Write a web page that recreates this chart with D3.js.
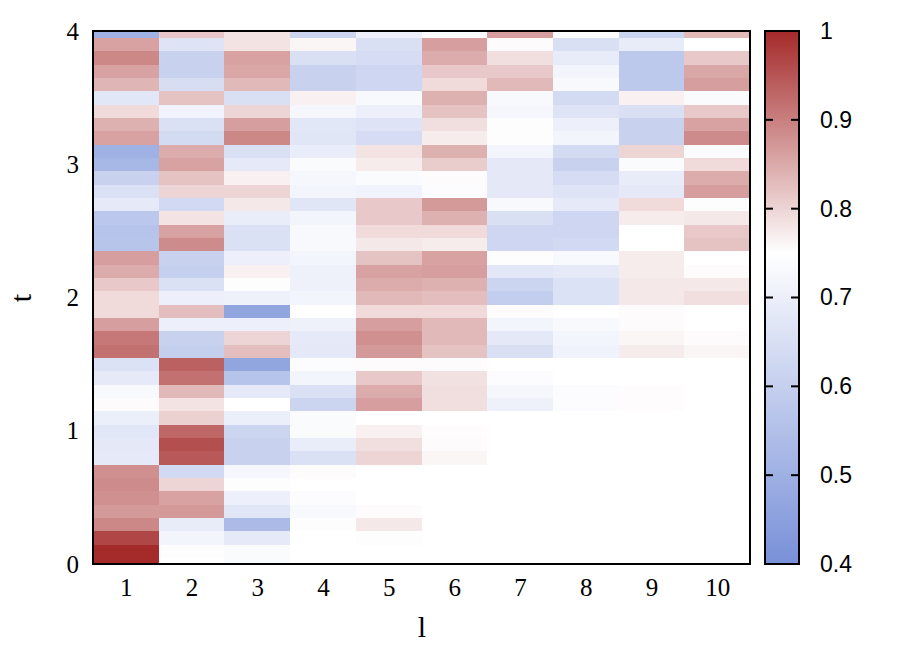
<!DOCTYPE html>
<html><head><meta charset="utf-8">
<script src="https://cdn.jsdelivr.net/npm/d3@7"></script>
<style>body{margin:0;background:#fff}svg{display:block}</style>
</head><body>
<svg id="c" width="921" height="645"></svg>
<script>
// ---- data ----
const lValues = [1,2,3,4,5,6,7,8,9,10];
const tValues = [0,0.1,0.2,0.3,0.4,0.5,0.6,0.7,0.8,0.9,1,1.1,1.2,1.3,1.4,1.5,1.6,1.7,1.8,1.9,2,
                 2.1,2.2,2.3,2.4,2.5,2.6,2.7,2.8,2.9,3,3.1,3.2,3.3,3.4,3.5,3.6,3.7,3.8,3.9,4];
// each column: values for t = 0 .. 4 (step 0.1)
const col1 = [1.0,1.0,0.967,0.891,0.870,0.880,0.886,0.880,0.684,0.679,0.674,0.698,0.755,0.731,0.684,0.660,0.918,0.908,0.864,0.793,0.793,0.815,0.848,0.864,0.566,0.561,0.575,0.684,0.655,0.608,0.523,0.504,0.859,0.842,0.793,0.674,0.837,0.859,0.891,0.859,0.504];
const col2 = [0.750,0.745,0.717,0.689,0.870,0.859,0.799,0.632,0.946,0.957,0.929,0.804,0.783,0.832,0.918,0.935,0.599,0.608,0.703,0.826,0.703,0.655,0.599,0.608,0.886,0.859,0.783,0.632,0.799,0.821,0.859,0.848,0.636,0.655,0.712,0.821,0.646,0.608,0.608,0.665,0.815];
const col3 = [0.736,0.736,0.684,0.532,0.670,0.703,0.745,0.726,0.608,0.608,0.617,0.698,0.750,0.684,0.561,0.466,0.826,0.799,0.703,0.466,0.707,0.745,0.766,0.703,0.655,0.655,0.693,0.777,0.799,0.766,0.684,0.651,0.891,0.864,0.799,0.651,0.832,0.853,0.859,0.783,0.783];
const col4 = [0.750,0.750,0.750,0.745,0.731,0.741,0.750,0.755,0.655,0.693,0.736,0.736,0.617,0.655,0.717,0.741,0.679,0.684,0.707,0.750,0.717,0.707,0.707,0.717,0.731,0.731,0.717,0.670,0.717,0.726,0.736,0.693,0.670,0.674,0.726,0.766,0.608,0.608,0.651,0.761,0.617];
const col5 = [0.750,0.750,0.752,0.777,0.755,0.750,0.750,0.750,0.799,0.788,0.766,0.750,0.864,0.848,0.815,0.755,0.870,0.880,0.864,0.793,0.832,0.848,0.859,0.821,0.777,0.793,0.815,0.815,0.712,0.736,0.772,0.783,0.641,0.665,0.703,0.731,0.622,0.622,0.641,0.651,0.703];
const col6 = [0.750,0.750,0.750,0.750,0.750,0.750,0.750,0.750,0.761,0.755,0.753,0.750,0.788,0.788,0.785,0.755,0.821,0.832,0.832,0.793,0.826,0.842,0.864,0.859,0.772,0.793,0.842,0.870,0.741,0.755,0.810,0.842,0.772,0.788,0.821,0.842,0.793,0.815,0.848,0.864,0.755];
const col7 = [0.750,0.750,0.750,0.750,0.750,0.750,0.750,0.750,0.750,0.750,0.750,0.750,0.707,0.726,0.741,0.750,0.651,0.679,0.717,0.755,0.594,0.617,0.674,0.745,0.622,0.622,0.651,0.731,0.679,0.679,0.679,0.717,0.752,0.745,0.726,0.731,0.832,0.815,0.788,0.755,0.864];
const col8 = [0.750,0.750,0.750,0.750,0.750,0.750,0.750,0.750,0.750,0.750,0.750,0.750,0.741,0.741,0.750,0.750,0.712,0.717,0.731,0.750,0.660,0.660,0.684,0.731,0.632,0.622,0.622,0.684,0.665,0.641,0.608,0.636,0.717,0.703,0.665,0.636,0.731,0.717,0.689,0.651,0.745];
const col9 = [0.750,0.750,0.750,0.750,0.750,0.750,0.750,0.750,0.750,0.750,0.750,0.750,0.753,0.753,0.750,0.750,0.772,0.761,0.755,0.755,0.777,0.777,0.772,0.772,0.750,0.750,0.772,0.793,0.679,0.689,0.736,0.799,0.608,0.608,0.651,0.766,0.580,0.580,0.580,0.689,0.617];
const col10 = [0.750,0.750,0.750,0.750,0.750,0.750,0.750,0.750,0.750,0.750,0.750,0.750,0.750,0.750,0.750,0.750,0.761,0.755,0.750,0.750,0.788,0.777,0.755,0.750,0.821,0.815,0.777,0.745,0.864,0.848,0.793,0.736,0.886,0.859,0.815,0.736,0.864,0.853,0.815,0.750,0.832];
const columns = [col1,col2,col3,col4,col5,col6,col7,col8,col9,col10];

const xTicks = [1,2,3,4,5,6,7,8,9,10];
const yTicks = [0,1,2,3,4];
const cbTicks = [0.4,0.5,0.6,0.7,0.8,0.9,1];
const cbInnerTicks = [0.5,0.6,0.7,0.8,0.9];
const cbStops = [0.4,0.75,1];
const cbColors = ["#7890d8","#ffffff","#a52a2a"];

// ---- drawing ----
const svg = d3.select("#c");
const L = 93, R = 750, T = 31, B = 564;
const x = d3.scaleLinear().domain([0.5,10.5]).range([L,R]);
const y = d3.scaleLinear().domain([0,4]).range([B,T]);
const color = d3.scaleLinear().domain(cbStops).range(cbColors).clamp(true);

svg.append("defs").append("clipPath").attr("id","pc")
  .append("rect").attr("x",L).attr("y",T).attr("width",R-L).attr("height",B-T);

const cells = [];
columns.forEach((col,i)=>col.forEach((v,k)=>cells.push({l:lValues[i],t:tValues[k],v})));
const dt = 0.05;
svg.append("g").attr("clip-path","url(#pc)").selectAll("rect").data(cells).join("rect")
  .attr("x",d=>x(d.l-0.5)).attr("width",d=>x(d.l+0.5)-x(d.l-0.5)+0.5)
  .attr("y",d=>y(d.t+dt)).attr("height",d=>y(d.t-dt)-y(d.t+dt)+0.5)
  .attr("fill",d=>color(d.v)).attr("shape-rendering","crispEdges");

svg.append("rect").attr("x",L).attr("y",T).attr("width",R-L).attr("height",B-T)
  .attr("fill","none").attr("stroke","#000").attr("stroke-width",2);

// axes
const serif = "'Liberation Serif','Times New Roman',serif";
const sans = "'Liberation Sans',Arial,Helvetica,sans-serif";
const ya = svg.append("g").attr("transform",`translate(${L},0)`)
  .call(d3.axisLeft(y).tickValues(yTicks).tickSize(0).tickPadding(14).tickFormat(d3.format("d")));
ya.select(".domain").remove();
ya.selectAll("text").attr("font-family",serif).attr("font-size",25).attr("fill","#000");

const xa = svg.append("g").attr("transform",`translate(0,${B})`)
  .call(d3.axisBottom(x).tickValues(xTicks).tickSize(0).tickPadding(14).tickFormat(d3.format("d")));
xa.select(".domain").remove();
xa.selectAll("text").attr("font-family",serif).attr("font-size",25).attr("fill","#000");

svg.append("text").attr("x",422).attr("y",637).attr("text-anchor","middle")
  .attr("font-family",serif).attr("font-size",30).text("l");
svg.append("text").attr("transform","translate(31,298) rotate(-90)").attr("text-anchor","middle")
  .attr("font-family",serif).attr("font-size",30).text("t");

// colorbar
const CL = 765, CR = 799;
const cb = d3.scaleLinear().domain([0.4,1]).range([B,T]);
const grad = svg.select("defs").append("linearGradient").attr("id","cbg")
  .attr("x1",0).attr("y1",1).attr("x2",0).attr("y2",0);
grad.selectAll("stop").data(cbStops).join("stop")
  .attr("offset",d=>(d-0.4)/0.6).attr("stop-color",d=>color(d));
svg.append("rect").attr("x",CL).attr("y",T).attr("width",CR-CL).attr("height",B-T)
  .attr("fill","url(#cbg)").attr("stroke","#000").attr("stroke-width",2);
const tk = svg.append("g");
cbInnerTicks.forEach(v=>{
  tk.append("line").attr("x1",CL).attr("x2",CL+8).attr("y1",cb(v)).attr("y2",cb(v)).attr("stroke","#000").attr("stroke-width",2);
  tk.append("line").attr("x1",CR-8).attr("x2",CR).attr("y1",cb(v)).attr("y2",cb(v)).attr("stroke","#000").attr("stroke-width",2);
});
const ca = svg.append("g").attr("transform",`translate(${CR},0)`)
  .call(d3.axisRight(cb).tickValues(cbTicks).tickSize(0).tickPadding(21).tickFormat(d=>String(+d.toFixed(1))));
ca.select(".domain").remove();
ca.selectAll("text").attr("font-family",sans).attr("font-size",23).attr("fill","#000");
</script>
</body></html>
